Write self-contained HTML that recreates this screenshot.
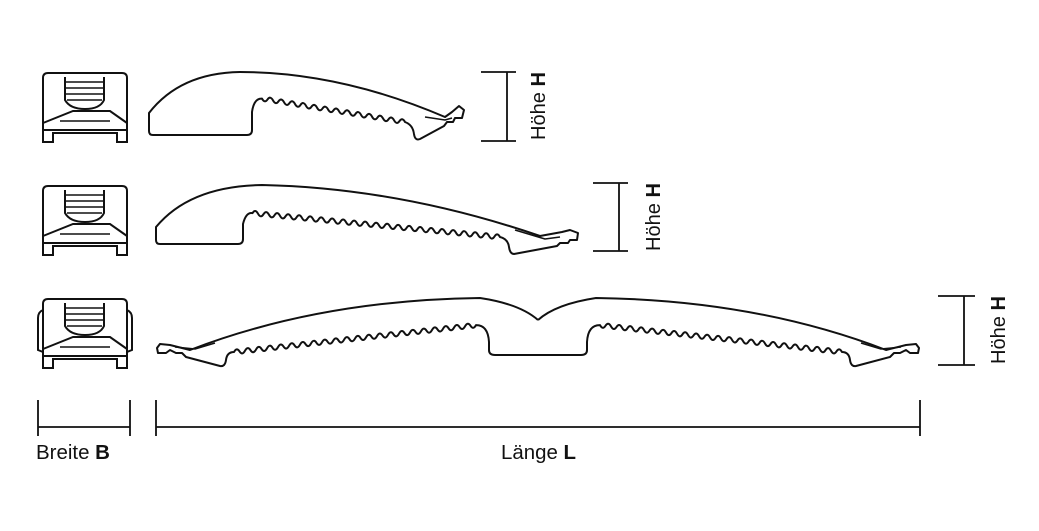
<!DOCTYPE html>
<html><head><meta charset="utf-8"><style>
html,body{margin:0;padding:0;background:#fff}
svg{display:block}
text{font-family:"Liberation Sans Narrow","Liberation Sans",sans-serif;font-size:20px;fill:#111}
</style></head><body>
<svg width="1039" height="531" viewBox="0 0 1039 531" xmlns="http://www.w3.org/2000/svg">
<defs>
<g id="cap" fill="none" stroke="#111" stroke-width="2">
<path d="M43,142 L43,78 Q43,73 48,73 L122,73 Q127,73 127,78 L127,142 L117,142 L117,133 L53,133 L53,142 Z"/>
<line x1="43" y1="130" x2="127" y2="130"/>
<path d="M43,123 L73,111 L110,111 L127,123"/>
<line x1="60" y1="121" x2="110" y2="121" stroke-width="1.5"/>
<path d="M65,77 L65,100 Q70,109 85,109 Q100,109 104,100 L104,77"/>
<line x1="66" y1="82" x2="103" y2="82" stroke-width="1.5"/>
<line x1="66" y1="88" x2="103" y2="88" stroke-width="1.5"/>
<line x1="66" y1="94" x2="103" y2="94" stroke-width="1.5"/>
<line x1="67" y1="100" x2="102" y2="100" stroke-width="1.5"/>
</g>
</defs>
<use href="#cap"/>
<use href="#cap" transform="translate(0,113)"/>
<g transform="translate(0,226)"><use href="#cap"/>
<path d="M43,84 Q38,86 38,92 L38,124 L43,126 M127,84 Q132,86 132,92 L132,124 L127,126" fill="none" stroke="#111" stroke-width="2"/></g>

<g fill="none" stroke="#111" stroke-width="2" stroke-linejoin="round">
<!-- Profile 1 -->
<path d="M153,135 Q149,135 149,131 L149,113 Q180,73 240,72 Q340,72 445,117 L452,112 L459,106 L464,110 L462,118 L455,118 L453,122 L447,122 L444,126 L420,139 Q415,141 414,134 Q413,125 405,122 q-2.75 -5 -5.5 -0.9 t-5.5 -0.9 t-5.5 -0.9 t-5.5 -0.9 t-5.5 -0.9 t-5.5 -0.9 t-5.5 -0.9 t-5.5 -0.9 t-5.5 -0.9 t-5.5 -0.9 t-5.5 -0.9 t-5.5 -0.9 t-5.5 -0.9 t-5.5 -0.9 t-5.5 -0.9 t-5.5 -0.9 t-5.5 -0.9 t-5.5 -0.9 t-5.5 -0.9 t-5.5 -0.9 t-5.5 -0.9 t-5.5 -0.9 t-5.5 -0.9 t-5.5 -0.9 t-5.5 -0.9 t-5.5 -0.9 Q254,98 252,112 L252,130 Q252,135 247,135 Z"/>
<path d="M425,117 L445,120 L452,118" stroke-width="1.5"/>
<!-- Profile 2 -->
<path d="M160,244 Q156,244 156,240 L156,227 Q190,186 262,185 Q400,188 540,236 L562,232 L570,230 L578,233 L577,240 L570,240 L568,243 L560,243 L557,246 L514,254 Q510,254 509,247 Q508,239 500,237 q-2.75 -5 -5.5 -0.53 t-5.5 -0.53 t-5.5 -0.53 t-5.5 -0.53 t-5.5 -0.53 t-5.5 -0.53 t-5.5 -0.53 t-5.5 -0.53 t-5.5 -0.53 t-5.5 -0.53 t-5.5 -0.53 t-5.5 -0.53 t-5.5 -0.53 t-5.5 -0.53 t-5.5 -0.53 t-5.5 -0.53 t-5.5 -0.53 t-5.5 -0.53 t-5.5 -0.53 t-5.5 -0.53 t-5.5 -0.53 t-5.5 -0.53 t-5.5 -0.53 t-5.5 -0.53 t-5.5 -0.53 t-5.5 -0.53 t-5.5 -0.53 t-5.5 -0.53 t-5.5 -0.53 t-5.5 -0.53 t-5.5 -0.53 t-5.5 -0.53 t-5.5 -0.53 t-5.5 -0.53 t-5.5 -0.53 t-5.5 -0.53 t-5.5 -0.53 t-5.5 -0.53 t-5.5 -0.53 t-5.5 -0.53 t-5.5 -0.53 t-5.5 -0.53 t-5.5 -0.53 t-5.5 -0.53 t-5.5 -0.53 Q246,212 243,224 L243,239 Q243,244 238,244 Z"/>
<path d="M515,230 L545,239 L560,237" stroke-width="1.5"/>
<!-- Profile 3 half -->
<g id="half">
<path d="M538,320 Q520,304 480,298 Q320,300 190,350 L170,345 L160,344 L157,348 L158,353 L166,353 L170,350 L176,353 L182,353 L186,357 L220,366 Q225,367 226,360 Q227,352 234,352 q2.75 -5 5.5 -0.61 t5.5 -0.61 t5.5 -0.61 t5.5 -0.61 t5.5 -0.61 t5.5 -0.61 t5.5 -0.61 t5.5 -0.61 t5.5 -0.61 t5.5 -0.61 t5.5 -0.61 t5.5 -0.61 t5.5 -0.61 t5.5 -0.61 t5.5 -0.61 t5.5 -0.61 t5.5 -0.61 t5.5 -0.61 t5.5 -0.61 t5.5 -0.61 t5.5 -0.61 t5.5 -0.61 t5.5 -0.61 t5.5 -0.61 t5.5 -0.61 t5.5 -0.61 t5.5 -0.61 t5.5 -0.61 t5.5 -0.61 t5.5 -0.61 t5.5 -0.61 t5.5 -0.61 t5.5 -0.61 t5.5 -0.61 t5.5 -0.61 t5.5 -0.61 t5.5 -0.61 t5.5 -0.61 t5.5 -0.61 t5.5 -0.61 t5.5 -0.61 t5.5 -0.61 t5.5 -0.61 t5.5 -0.61 Q488,325 489,342 L489,350 Q489,355 495,355 L538,355"/>
<path d="M175,347 L195,349 L215,343" stroke-width="1.5"/>
</g>
<use href="#half" transform="translate(1076,0) scale(-1,1)"/>

<!-- dimensions -->
<g stroke-width="1.8">
<path d="M481,72 L516,72 M481,141 L516,141 M507,72 L507,141"/>
<path d="M593,183 L628,183 M593,251 L628,251 M619,183 L619,251"/>
<path d="M938,296 L975,296 M938,365 L975,365 M964,296 L964,365"/>
<path d="M38,400 L38,436 M130,400 L130,436 M38,427 L130,427"/>
<path d="M156,400 L156,436 M920,400 L920,436 M156,427 L920,427"/>
</g>
</g>
<text transform="translate(545,106) rotate(-90)" text-anchor="middle" textLength="68" lengthAdjust="spacingAndGlyphs">Höhe <tspan font-weight="bold">H</tspan></text>
<text transform="translate(660,217) rotate(-90)" text-anchor="middle" textLength="68" lengthAdjust="spacingAndGlyphs">Höhe <tspan font-weight="bold">H</tspan></text>
<text transform="translate(1005,330) rotate(-90)" text-anchor="middle" textLength="68" lengthAdjust="spacingAndGlyphs">Höhe <tspan font-weight="bold">H</tspan></text>
<text x="36" y="459" textLength="74" lengthAdjust="spacingAndGlyphs">Breite <tspan font-weight="bold">B</tspan></text>
<text x="501" y="459" textLength="75" lengthAdjust="spacingAndGlyphs">Länge <tspan font-weight="bold">L</tspan></text>
</svg>
</body></html>
